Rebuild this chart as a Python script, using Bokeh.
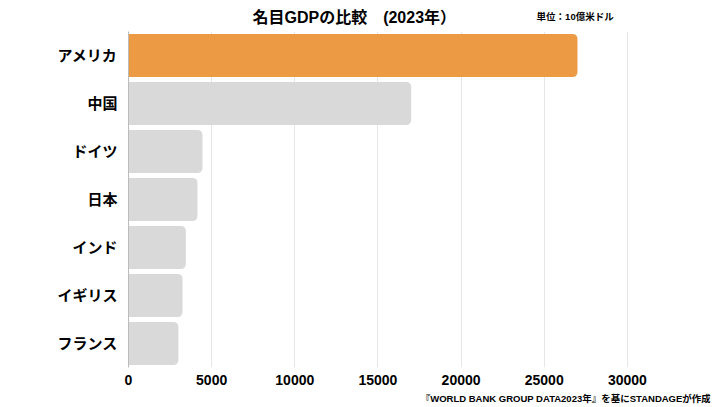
from bokeh.plotting import figure
from bokeh.layouts import column
from bokeh.models import Range1d, FactorRange, FixedTicker, Label, ColumnDataSource, Plot
from bokeh.embed import file_html
from bokeh.resources import INLINE

countries = ["アメリカ", "中国", "ドイツ", "日本", "インド", "イギリス", "フランス"]
gdp = [27000, 17000, 4450, 4150, 3450, 3250, 3000]
colors = ["#ED9A44", "#D9D9D9", "#D9D9D9", "#D9D9D9", "#D9D9D9", "#D9D9D9", "#D9D9D9"]
x_ticks = [0, 5000, 10000, 15000, 20000, 25000, 30000]
title_text = "名目GDPの比較　(2023年）"
unit_text = "単位：10億米ドル"
source_text = "『WORLD BANK GROUP DATA2023年』を基にSTANDAGEが作成"

FONT = "'Liberation Sans', 'Noto Sans CJK JP', sans-serif"
W = 723


def blank(h):
    f = Plot(width=W, height=h, output_backend="svg", toolbar_location=None,
             x_range=Range1d(0, W), y_range=Range1d(h, 0),
             min_border=0, min_border_left=0, min_border_right=0,
             min_border_top=0, min_border_bottom=0, outline_line_color=None)
    return f


# header
head = blank(31)
head.add_layout(Label(x=154, y=17, text=title_text, text_font=FONT, text_font_style="bold",
                      text_font_size="16px", text_align="left", text_baseline="middle",
                      text_color="#000000"))
head.add_layout(Label(x=507, y=16, text=unit_text, text_font=FONT, text_font_style="bold",
                      text_font_size="9.5px", text_align="left", text_baseline="middle",
                      text_color="#000000"))

# main chart
src = ColumnDataSource(dict(c=countries, v=gdp, col=colors))
p = figure(width=W, height=358, output_backend="svg", toolbar_location=None,
           x_range=Range1d(0, 35000), y_range=FactorRange(*list(reversed(countries))),
           min_border_left=128, min_border_right=13, min_border_top=0, min_border_bottom=22)
p.outline_line_color = None
p.background_fill_color = "white"

p.hbar(y="c", right="v", left=0, height=0.9, fill_color="col", line_color=None, source=src,
       border_radius=(0, 5, 5, 0))

p.xaxis.ticker = FixedTicker(ticks=x_ticks)
p.xaxis.axis_line_color = None
p.xaxis.major_tick_line_color = None
p.xaxis.minor_tick_line_color = None
p.xaxis.major_label_text_font = FONT
p.xaxis.major_label_text_font_style = "bold"
p.xaxis.major_label_text_font_size = "14px"
p.xaxis.major_label_text_color = "#000000"
p.xaxis.major_label_standoff = 1

p.yaxis.axis_line_color = "#BBBBBB"
p.yaxis.major_tick_line_color = None
p.yaxis.minor_tick_line_color = None
p.yaxis.major_label_text_font = FONT
p.yaxis.major_label_text_font_style = "bold"
p.yaxis.major_label_text_font_size = "15px"
p.yaxis.major_label_text_color = "#000000"
p.yaxis.major_label_standoff = 5

p.xgrid.grid_line_color = "#E6E6E6"
p.ygrid.grid_line_color = None

# footer
foot = blank(18)
foot.add_layout(Label(x=363, y=9, text=source_text, text_font=FONT, text_font_style="bold",
                      text_font_size="9.5px", text_align="left", text_baseline="middle",
                      text_color="#000000"))

layout = column(head, p, foot, spacing=0)
open("out.html", "w").write(file_html(layout, INLINE))
